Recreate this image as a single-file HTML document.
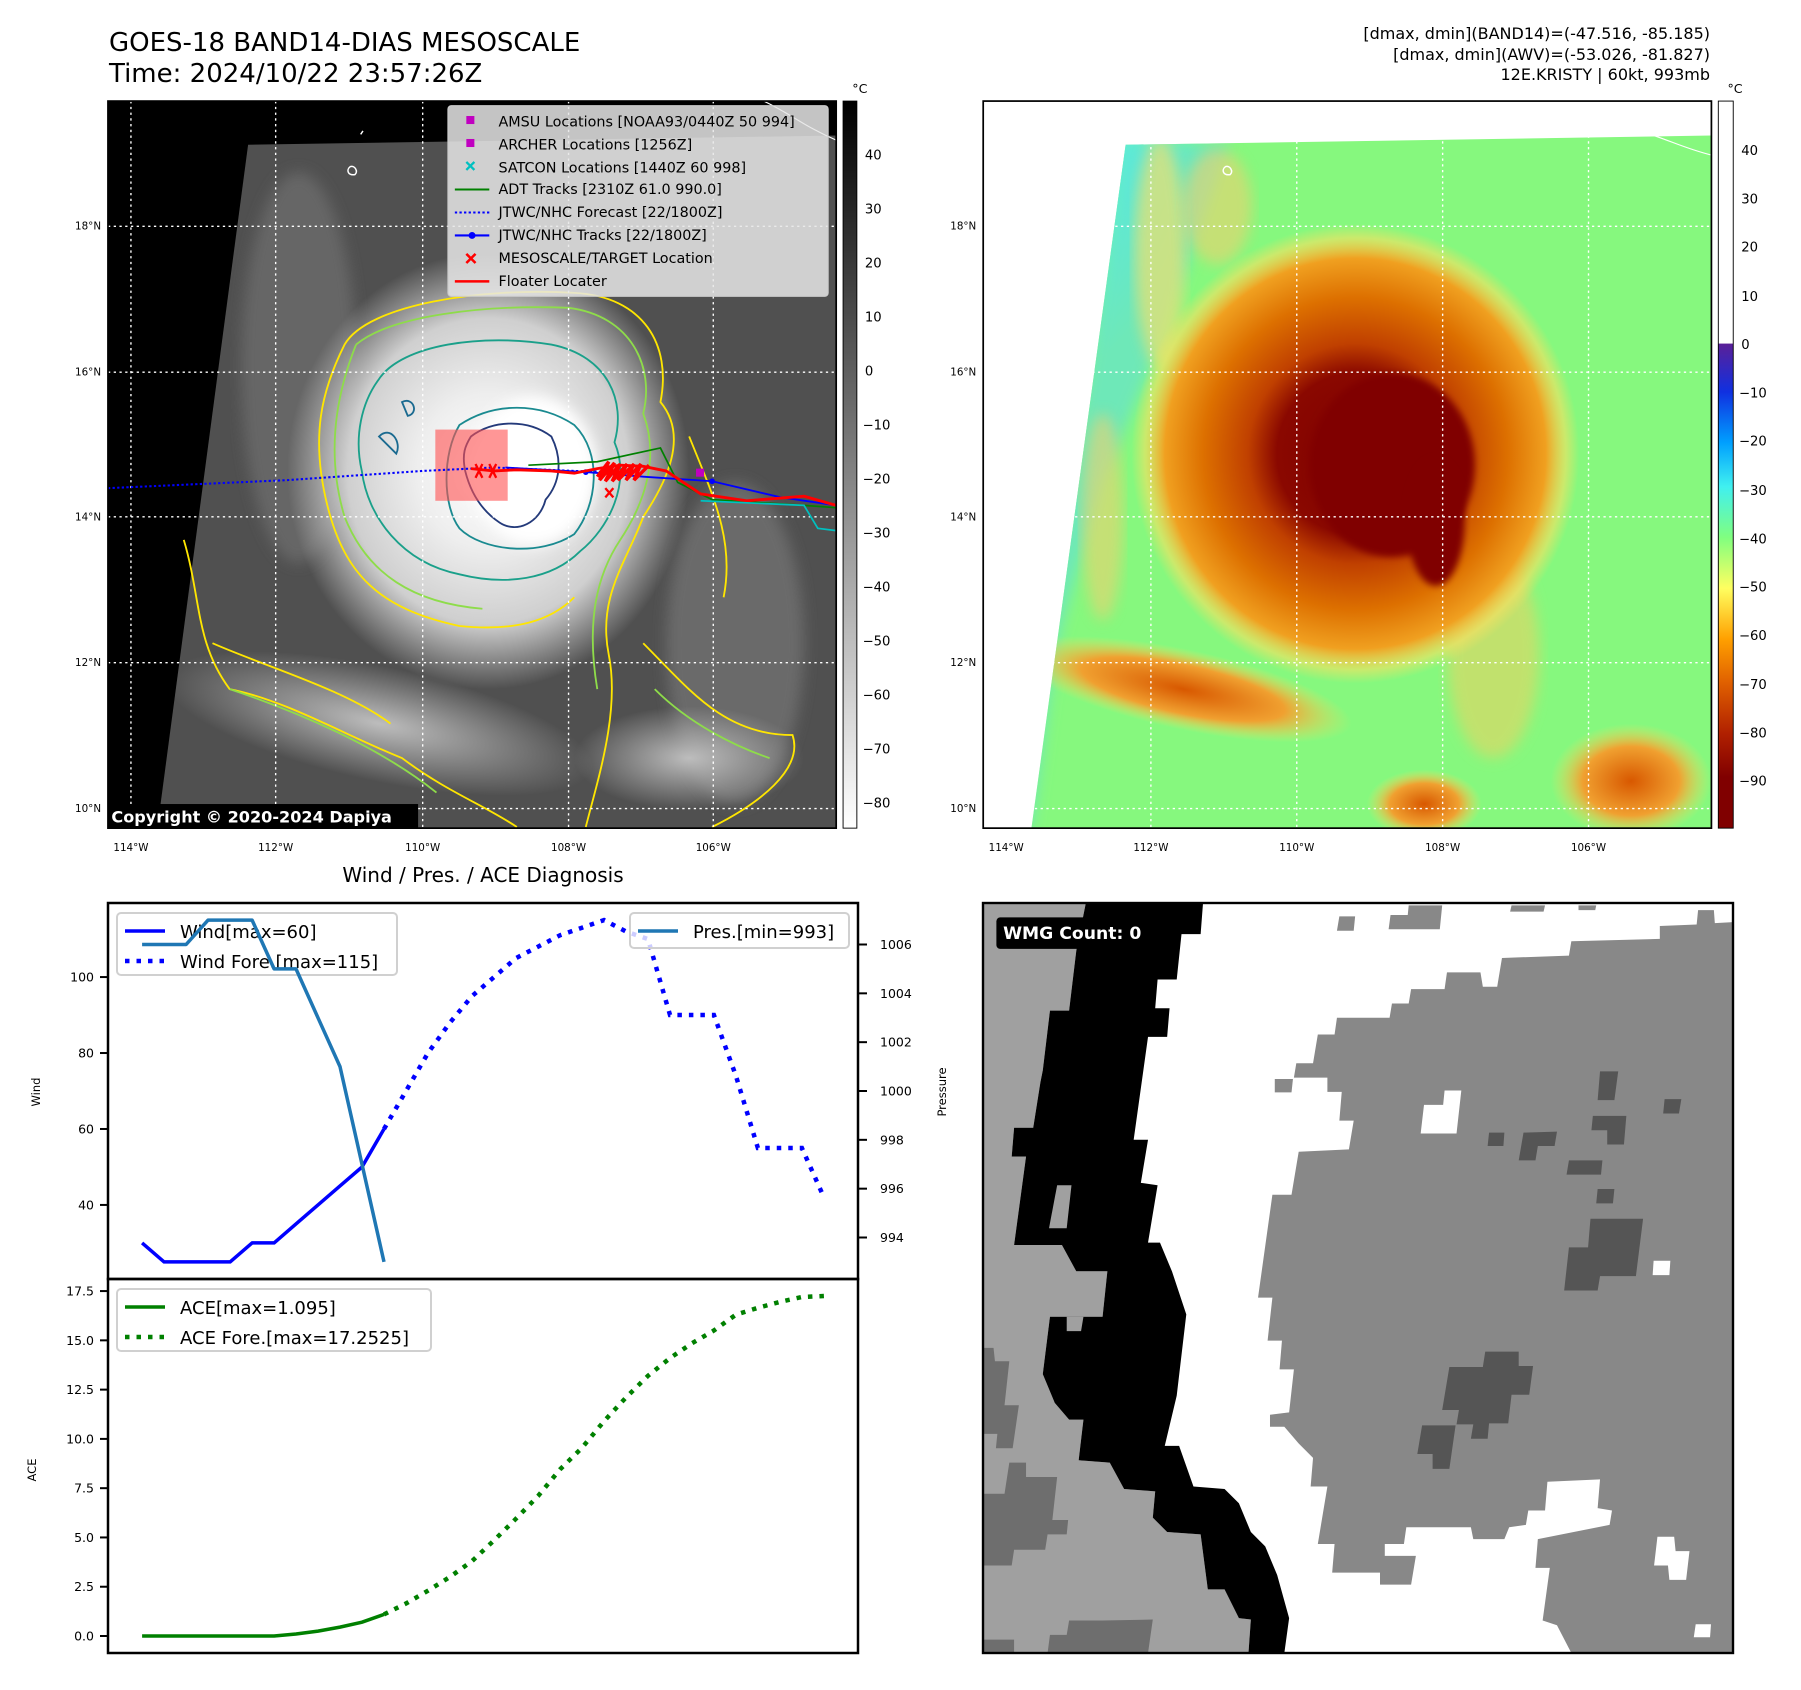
<!DOCTYPE html>
<html><head><meta charset="utf-8">
<style>
html,body{margin:0;padding:0;background:#fff;}
svg{display:block;font-family:"DejaVu Sans","Liberation Sans",sans-serif;}
</style></head>
<body>
<svg id="root" width="1801" height="1690" viewBox="0 0 1801 1690" xmlns="http://www.w3.org/2000/svg">
<defs>
  <clipPath id="clipL"><rect x="94" y="88" width="634" height="633"/></clipPath>
  <clipPath id="clipR"><rect x="856" y="88" width="634" height="633"/></clipPath>
  <clipPath id="swathL"><polygon points="216,126 728,118 728,721 137,721"/></clipPath>
  <clipPath id="swathR"><polygon points="980,126 1490,118 1490,721 898,721"/></clipPath>
  <radialGradient id="cyc" cx="0.5" cy="0.5" r="0.5">
    <stop offset="0" stop-color="#ffffff"/>
    <stop offset="0.35" stop-color="#eeeeee"/>
    <stop offset="0.7" stop-color="#cfcfcf"/>
    <stop offset="1" stop-color="#cfcfcf" stop-opacity="0"/>
  </radialGradient>
  <radialGradient id="band" cx="0.5" cy="0.5" r="0.5">
    <stop offset="0" stop-color="#bdbdbd"/>
    <stop offset="1" stop-color="#bdbdbd" stop-opacity="0"/>
  </radialGradient>
  <radialGradient id="storm" cx="0.5" cy="0.5" r="0.5">
    <stop offset="0" stop-color="#800000"/>
    <stop offset="0.35" stop-color="#8a0800"/>
    <stop offset="0.48" stop-color="#c04000"/>
    <stop offset="0.68" stop-color="#dd7000"/>
    <stop offset="0.85" stop-color="#f0a020"/>
    <stop offset="0.94" stop-color="#f8e060" stop-opacity="0.6"/>
    <stop offset="1" stop-color="#f8e060" stop-opacity="0"/>
  </radialGradient>
  <radialGradient id="cyanGrad" cx="0" cy="0" r="1">
    <stop offset="0" stop-color="#40b8ff"/>
    <stop offset="0.5" stop-color="#50e8f0"/>
    <stop offset="1" stop-color="#50e8f0" stop-opacity="0"/>
  </radialGradient>
  <radialGradient id="orBlob" cx="0.5" cy="0.5" r="0.5">
    <stop offset="0" stop-color="#d85800"/>
    <stop offset="0.6" stop-color="#f0a030"/>
    <stop offset="1" stop-color="#f8e060" stop-opacity="0"/>
  </radialGradient>
  <linearGradient id="grayBar" x1="0" y1="0" x2="0" y2="1">
    <stop offset="0" stop-color="#000"/>
    <stop offset="1" stop-color="#fff"/>
  </linearGradient>
  <linearGradient id="colorBar" x1="0" y1="0" x2="0" y2="1">
    <stop offset="0" stop-color="#fff"/>
    <stop offset="0.333" stop-color="#fff"/>
    <stop offset="0.334" stop-color="#5a2098"/>
    <stop offset="0.40" stop-color="#1030e0"/>
    <stop offset="0.47" stop-color="#00a0ff"/>
    <stop offset="0.53" stop-color="#40f0f0"/>
    <stop offset="0.60" stop-color="#80ff80"/>
    <stop offset="0.67" stop-color="#ffff60"/>
    <stop offset="0.74" stop-color="#ffa000"/>
    <stop offset="0.80" stop-color="#e06000"/>
    <stop offset="0.87" stop-color="#b02000"/>
    <stop offset="0.93" stop-color="#800000"/>
    <stop offset="1" stop-color="#800000"/>
  </linearGradient>
  <filter id="blur6"><feGaussianBlur stdDeviation="6"/></filter>
  <filter id="blur3"><feGaussianBlur stdDeviation="3"/></filter>
</defs>

<text x="109" y="51" font-size="26" fill="#000">GOES-18 BAND14-DIAS MESOSCALE</text>
<text x="109" y="82" font-size="26" fill="#000">Time: 2024/10/22 23:57:26Z</text>
<g font-size="16" text-anchor="end" fill="#000">
  <text x="1710" y="39">[dmax, dmin](BAND14)=(-47.516, -85.185)</text>
  <text x="1710" y="60">[dmax, dmin](AWV)=(-53.026, -81.827)</text>
  <text x="1710" y="80">12E.KRISTY | 60kt, 993mb</text>
</g>

<g transform="scale(1.1486)">
  <g>
    <g clip-path="url(#clipL)">
      <rect x="94" y="88" width="634" height="633" fill="#000"/>
      <polygon points="216,126 728,118 728,721 137,721" fill="#505050"/>
      <g clip-path="url(#swathL)">
        <ellipse cx="260" cy="320" rx="50" ry="170" fill="#666" filter="url(#blur6)"/>
        <ellipse cx="640" cy="560" rx="60" ry="140" fill="#6a6a6a" filter="url(#blur6)"/>
        <ellipse cx="330" cy="630" rx="190" ry="50" fill="url(#band)" transform="rotate(12 330 630)"/>
        <ellipse cx="600" cy="660" rx="100" ry="45" fill="url(#band)"/>
        <ellipse cx="425" cy="410" rx="175" ry="190" fill="url(#cyc)"/>
        <ellipse cx="465" cy="410" rx="55" ry="65" fill="#fff" filter="url(#blur6)"/>
      </g>
      <g fill="none" stroke-width="1.6">
        <path d="M300,300 C320,265 420,250 500,255 C560,258 585,300 575,350 C600,380 580,420 560,450 C545,490 520,520 530,570 C540,620 520,680 510,720 M300,300 C280,340 270,380 285,440 C300,500 330,530 400,545 C450,550 480,540 500,520" stroke="#ffe600"/>
        <path d="M160,470 C175,520 170,560 200,600 C250,610 300,640 350,660 C390,690 420,700 450,720 M185,560 C230,580 300,600 340,630 M560,560 C600,600 630,640 690,640 C700,670 660,700 620,720 M600,380 C620,430 640,470 630,520" stroke="#ffe600"/>
        <path d="M310,300 C340,275 420,265 495,268 C550,275 570,320 560,360 C575,400 560,440 540,470 C520,500 510,540 520,600 M310,300 C290,350 285,400 300,450 C320,500 360,525 420,530" stroke="#8edc4a"/>
        <path d="M200,600 C260,620 330,650 380,690 M570,600 C600,630 640,650 670,660" stroke="#8edc4a"/>
        <path d="M330,330 C350,300 420,290 480,300 C530,310 545,350 535,385 C550,420 530,460 505,480 C480,505 440,510 400,500 C350,490 320,450 315,410 C308,380 315,350 330,330 Z" stroke="#1aa08a"/>
        <path d="M400,370 C430,350 470,350 500,370 C525,395 520,440 500,465 C470,485 420,480 400,460 C385,440 385,395 400,370 Z" stroke="#1a8a90"/>
        <path d="M410,380 C430,365 460,365 480,380 C490,400 488,420 475,435 C470,455 450,465 435,455 C420,445 410,430 405,410 C402,395 405,388 410,380 Z" stroke="#243a7a"/>
        <path d="M330,380 C340,370 350,385 345,395 Z M350,350 C360,345 365,360 355,362 Z" stroke="#1a6a90"/>
      </g>
      <g stroke="#fff" stroke-width="1.2" stroke-dasharray="2 3">
        <line x1="114" y1="88" x2="114" y2="721"/><line x1="240" y1="88" x2="240" y2="721"/>
        <line x1="368" y1="88" x2="368" y2="721"/><line x1="495" y1="88" x2="495" y2="721"/>
        <line x1="621" y1="88" x2="621" y2="721"/>
        <line x1="94" y1="197" x2="728" y2="197"/><line x1="94" y1="324" x2="728" y2="324"/>
        <line x1="94" y1="450" x2="728" y2="450"/><line x1="94" y1="577" x2="728" y2="577"/>
        <line x1="94" y1="704" x2="728" y2="704"/>
      </g>
      <rect x="379" y="374" width="63" height="62" fill="#ff5050" fill-opacity="0.6"/>
      <polyline points="94,425 250,418 368,410 430,407 500,410 560,412" fill="none" stroke="#0000ff" stroke-width="1.8" stroke-dasharray="2 2"/>
      <polyline points="460,405 520,402 575,390 590,420 620,435 700,440 728,442" fill="none" stroke="#008000" stroke-width="1.5"/>
      <polyline points="440,407 510,411 560,415 620,419 680,433 728,440" fill="none" stroke="#0000ff" stroke-width="1.6"/>
      <circle cx="510" cy="411" r="2.5" fill="#0000ff"/><circle cx="620" cy="419" r="2.5" fill="#0000ff"/>
      <polyline points="410,408 430,410 450,409 480,410 500,412 520,408 540,405 560,406 580,410 610,430 650,436 700,432 728,440" fill="none" stroke="#ff0000" stroke-width="2.5"/>
      <path d="M520,415 L530,402 L522,418 L535,403 L527,419 L540,404 L533,419 L546,404 L538,418 L552,404 L545,418 L558,404 L552,418 L565,405" fill="none" stroke="#ff0000" stroke-width="3"/>
      <path d="M414,404 l6,12 M420,404 l-6,12 M426,404 l6,12 M432,404 l-6,12" stroke="#ff0000" stroke-width="2"/>
      <rect x="606" y="408" width="7" height="7" fill="#c000c0"/>
      <path d="M527,425 l7,8 M534,425 l-7,8" stroke="#ff0000" stroke-width="2"/>
      <path d="M610,436 L700,440 L712,460 L728,462" fill="none" stroke="#00c0c0" stroke-width="1.5"/>
      <path d="M305,145 c-4,3 -2,8 4,7 c3,-3 0,-8 -4,-7 z M316,114 l-2,3" fill="none" stroke="#fff" stroke-width="1.3"/>
      <path d="M665,88 C690,100 700,110 728,122" fill="none" stroke="#fff" stroke-width="1"/>
      <g>
        <rect x="390" y="92" width="331" height="166" rx="3" fill="#e6e6e6" fill-opacity="0.85" stroke="#ccc"/>
        <g font-size="12.5" fill="#000">
          <text x="434" y="110">AMSU Locations [NOAA93/0440Z 50 994]</text>
          <text x="434" y="130">ARCHER Locations [1256Z]</text>
          <text x="434" y="150">SATCON Locations [1440Z 60 998]</text>
          <text x="434" y="169">ADT Tracks [2310Z 61.0 990.0]</text>
          <text x="434" y="189">JTWC/NHC Forecast [22/1800Z]</text>
          <text x="434" y="209">JTWC/NHC Tracks [22/1800Z]</text>
          <text x="434" y="229">MESOSCALE/TARGET Location</text>
          <text x="434" y="249">Floater Locater</text>
        </g>
        <rect x="406" y="101" width="7" height="7" fill="#c000c0"/>
        <rect x="406" y="121" width="7" height="7" fill="#c000c0"/>
        <path d="M406,141 l7,7 M413,141 l-7,7" stroke="#00c0c0" stroke-width="2"/>
        <line x1="396" y1="165" x2="426" y2="165" stroke="#008000" stroke-width="1.8"/>
        <line x1="396" y1="185" x2="426" y2="185" stroke="#0000ff" stroke-width="1.8" stroke-dasharray="2 2"/>
        <line x1="396" y1="205" x2="426" y2="205" stroke="#0000ff" stroke-width="1.8"/><circle cx="411" cy="205" r="3" fill="#0000ff"/>
        <path d="M406,221 l8,8 M414,221 l-8,8" stroke="#ff0000" stroke-width="2.2"/>
        <line x1="396" y1="245" x2="426" y2="245" stroke="#ff0000" stroke-width="2.2"/>
      </g>
      <rect x="94" y="700" width="270" height="21" fill="#000"/>
      <text x="97" y="716" font-size="14" font-weight="bold" fill="#fff">Copyright © 2020-2024 Dapiya</text>
    </g>
    <rect x="94" y="88" width="634" height="633" fill="none" stroke="#000" stroke-width="1.5"/>
  </g>

  <g>
    <g clip-path="url(#clipR)">
      <rect x="856" y="88" width="634" height="633" fill="#fff"/>
      <polygon points="980,126 1490,118 1490,721 898,721" fill="#86f87e"/>
      <g clip-path="url(#swathR)">
        <polygon points="980,126 1070,124 1010,300 960,420 920,560 898,721 880,721" fill="#6ee8b8" filter="url(#blur6)"/>
        <ellipse cx="985" cy="140" rx="90" ry="200" fill="url(#cyanGrad)"/>
        <ellipse cx="1010" cy="220" rx="22" ry="100" fill="#f0e070" filter="url(#blur6)" opacity="0.7"/>
        <ellipse cx="1060" cy="180" rx="30" ry="50" fill="#f0d070" filter="url(#blur6)" opacity="0.6"/>
        <ellipse cx="960" cy="450" rx="18" ry="90" fill="#f0d070" filter="url(#blur6)" opacity="0.6"/>
        <ellipse cx="1030" cy="600" rx="150" ry="35" fill="url(#orBlob)" transform="rotate(12 1030 600)"/>
        <ellipse cx="1420" cy="680" rx="70" ry="50" fill="url(#orBlob)"/>
        <ellipse cx="1240" cy="700" rx="50" ry="30" fill="url(#orBlob)"/>
        <ellipse cx="1300" cy="570" rx="40" ry="90" fill="#f2d060" opacity="0.55" filter="url(#blur6)"/>
        <ellipse cx="1180" cy="395" rx="195" ry="200" fill="url(#storm)"/>
        <ellipse cx="1212" cy="405" rx="72" ry="80" fill="#800000" filter="url(#blur3)"/>
        <ellipse cx="1250" cy="455" rx="25" ry="55" fill="#800000" filter="url(#blur3)"/>
      </g>
      <g stroke="#fff" stroke-width="1.2" stroke-dasharray="2 3">
        <line x1="876" y1="88" x2="876" y2="721"/><line x1="1002" y1="88" x2="1002" y2="721"/>
        <line x1="1129" y1="88" x2="1129" y2="721"/><line x1="1256" y1="88" x2="1256" y2="721"/>
        <line x1="1383" y1="88" x2="1383" y2="721"/>
        <line x1="856" y1="197" x2="1490" y2="197"/><line x1="856" y1="324" x2="1490" y2="324"/>
        <line x1="856" y1="450" x2="1490" y2="450"/><line x1="856" y1="577" x2="1490" y2="577"/>
        <line x1="856" y1="704" x2="1490" y2="704"/>
      </g>
      <path d="M1067,145 c-4,3 -2,8 4,7 c3,-3 0,-8 -4,-7 z" fill="none" stroke="#fff" stroke-width="1.3"/>
      <path d="M1440,118 C1460,125 1470,130 1490,135" fill="none" stroke="#fff" stroke-width="1"/>
    </g>
    <rect x="856" y="88" width="634" height="633" fill="none" stroke="#000" stroke-width="1.5"/>
  </g>

  <g font-size="9" fill="#000" text-anchor="end">
    <text x="88" y="200">18°N</text><text x="88" y="327">16°N</text><text x="88" y="453">14°N</text><text x="88" y="580">12°N</text><text x="88" y="707">10°N</text>
    <text x="850" y="200">18°N</text><text x="850" y="327">16°N</text><text x="850" y="453">14°N</text><text x="850" y="580">12°N</text><text x="850" y="707">10°N</text>
  </g>
  <g font-size="9" fill="#000" text-anchor="middle">
    <text x="114" y="741">114°W</text><text x="240" y="741">112°W</text><text x="368" y="741">110°W</text><text x="495" y="741">108°W</text><text x="621" y="741">106°W</text>
    <text x="876" y="741">114°W</text><text x="1002" y="741">112°W</text><text x="1129" y="741">110°W</text><text x="1256" y="741">108°W</text><text x="1383" y="741">106°W</text>
  </g>

  <g>
    <text x="742" y="81" font-size="11">°C</text>
    <rect x="734" y="88" width="12" height="633" fill="url(#grayBar)" stroke="#000" stroke-width="0.8"/>
    <g font-size="11.5" fill="#000">
      <text x="753" y="139">40</text><text x="753" y="186">30</text><text x="753" y="233">20</text><text x="753" y="280">10</text><text x="753" y="327">0</text>
      <text x="751" y="374">−10</text><text x="751" y="421">−20</text><text x="751" y="468">−30</text><text x="751" y="515">−40</text><text x="751" y="562">−50</text>
      <text x="751" y="609">−60</text><text x="751" y="656">−70</text><text x="751" y="703">−80</text>
    </g>
  </g>
  <g>
    <text x="1504" y="81" font-size="11">°C</text>
    <rect x="1496" y="88" width="13" height="633" fill="url(#colorBar)" stroke="#000" stroke-width="0.8"/>
    <g font-size="11.5" fill="#000">
      <text x="1516" y="135">40</text><text x="1516" y="177">30</text><text x="1516" y="219">20</text><text x="1516" y="262">10</text><text x="1516" y="304">0</text>
      <text x="1514" y="346">−10</text><text x="1514" y="388">−20</text><text x="1514" y="431">−30</text><text x="1514" y="473">−40</text><text x="1514" y="515">−50</text>
      <text x="1514" y="557">−60</text><text x="1514" y="600">−70</text><text x="1514" y="642">−80</text><text x="1514" y="684">−90</text>
    </g>
  </g>
</g>

<g transform="translate(983,903) scale(0.47832)">
  <rect x="0" y="0" width="1568" height="1568" fill="#fff"/>
  <polygon fill="#a0a0a0" points="0,0 215,0 195,100 180,225 140,225 125,350 120,375 105,470 65,470 60,530 90,530 65,715 165,715 195,770 260,770 250,865 140,865 125,985 150,1045 180,1080 210,1080 200,1165 265,1170 295,1225 360,1230 355,1285 385,1315 455,1320 470,1435 505,1435 535,1495 560,1498 555,1568 0,1568"/>
  <polygon fill="#6e6e6e" points="0,930 22,930 25,958 55,958 45,1050 75,1050 62,1140 27,1140 30,1110 0,1110"/>
  <polygon fill="#6e6e6e" points="55,1170 90,1170 90,1200 155,1200 145,1290 178,1290 175,1320 135,1320 130,1352 65,1352 60,1385 0,1385 0,1235 45,1235"/>
  <polygon fill="#6e6e6e" points="140,1530 175,1530 180,1500 250,1500 355,1498 345,1568 135,1568"/>
  <polygon fill="#6e6e6e" points="0,1540 65,1540 65,1568 0,1568"/>
  <polygon fill="#000" points="215,0 460,0 455,65 415,65 405,160 365,160 360,220 390,220 385,280 345,280 315,495 345,495 330,585 365,590 345,710 370,710 395,770 425,860 405,1030 380,1135 410,1135 440,1220 505,1225 535,1255 560,1315 590,1345 615,1405 640,1495 630,1568 555,1568 560,1498 535,1495 505,1435 470,1435 455,1320 385,1315 355,1285 360,1230 295,1225 265,1170 200,1165 210,1080 180,1080 150,1045 125,985 140,865 250,865 260,770 195,770 165,715 65,715 90,530 60,530 65,470 105,470 120,375 125,350 140,225 180,225 195,100"/>
  <polygon fill="#a0a0a0" points="155,590 185,590 175,680 138,680"/>
  <polygon fill="#a0a0a0" points="175,865 210,865 205,895 175,895"/>
  <polygon fill="#888" points="1568,40 1530,42 1528,15 1495,15 1492,45 1415,48 1415,75 1230,80 1225,110 1085,115 1075,175 1045,175 1040,145 970,145 965,180 895,180 890,210 855,210 850,240 740,240 735,275 700,275 690,335 655,335 650,365 720,365 720,395 750,395 745,455 775,455 765,515 660,520 645,610 605,610 575,825 605,825 595,915 625,915 620,975 650,975 640,1065 600,1070 600,1095 630,1095 660,1130 690,1160 685,1220 720,1220 700,1340 735,1340 730,1400 830,1400 830,1425 895,1425 905,1365 840,1365 840,1340 880,1340 885,1305 1020,1305 1025,1330 1090,1330 1100,1305 1135,1300 1140,1270 1175,1270 1180,1210 1290,1205 1285,1265 1315,1270 1310,1300 1160,1330 1155,1390 1185,1390 1170,1500 1200,1510 1230,1568 1568,1568"/>
  <g fill="#888">
    <polygon points="745,28 778,28 775,58 740,58"/>
    <polygon points="890,5 960,5 955,55 848,55 852,25 888,25"/>
    <polygon points="1105,5 1175,5 1172,18 1102,18"/>
    <polygon points="1245,5 1282,5 1280,15 1245,15"/>
    <polygon points="610,368 648,368 645,396 610,396"/>
  </g>
  <g fill="#555">
    <polygon points="1270,660 1380,660 1365,780 1290,780 1285,810 1215,810 1225,720 1265,720"/>
    <polygon points="975,970 1045,970 1050,938 1120,938 1120,968 1150,968 1142,1028 1105,1028 1098,1088 1058,1088 1055,1120 1020,1120 1025,1090 990,1090 995,1060 960,1060"/>
    <polygon points="918,1092 988,1092 975,1183 940,1183 940,1152 908,1152"/>
    <polygon points="1290,352 1328,352 1320,412 1285,412"/>
    <polygon points="1275,445 1345,445 1340,505 1305,505 1305,475 1272,475"/>
    <polygon points="1130,480 1200,478 1195,508 1160,508 1155,538 1120,538"/>
    <polygon points="1058,480 1090,480 1088,508 1055,508"/>
    <polygon points="1225,538 1295,538 1292,568 1220,568"/>
    <polygon points="1285,598 1320,598 1317,628 1282,628"/>
    <polygon points="1425,410 1460,410 1455,440 1422,440"/>
  </g>
  <g fill="#fff">
    <polygon points="965,392 1000,392 990,482 915,482 922,422 962,422"/>
    <polygon points="1402,748 1437,748 1435,778 1400,778"/>
    <polygon points="1410,1325 1445,1325 1448,1355 1477,1355 1470,1415 1435,1415 1432,1385 1403,1385"/>
    <polygon points="1490,1508 1522,1508 1520,1535 1486,1535"/>
  </g>
  <rect x="28" y="30" width="372" height="66" rx="8" fill="#000"/>
  <text x="42" y="75" font-size="36" font-weight="bold" fill="#fff">WMG Count: 0</text>
  <rect x="0" y="0" width="1568" height="1568" fill="none" stroke="#000" stroke-width="5"/>
</g>

<text x="483" y="882" font-size="20" text-anchor="middle" fill="#000">Wind / Pres. / ACE Diagnosis</text>
<g id="chart"></g>
</svg>

<script>
// ---- data ----
const windObs = [30,25,25,25,25,30,30,35,40,45,50,60];
const windFore = [60,70,80,88,95,100,105,108,111,113,115,112,110,90,90,90,74,55,55,55,42];
const presObs = [1006,1006,1006,1007,1007,1007,1005,1005,1003,1001,997,993];
const aceObs = [0,0,0,0,0,0,0,0.1,0.25,0.45,0.7,1.095];
const aceFore = [1.095,1.65,2.3,3.0,3.8,4.85,5.95,7.1,8.45,9.55,10.9,12.1,13.2,14.1,14.85,15.5,16.3,16.65,16.95,17.2,17.25];
const windTicks = [40,60,80,100];
const presTicks = [994,996,998,1000,1002,1004,1006];
const aceTicks = [0,2.5,5,7.5,10,12.5,15,17.5];

const NS='http://www.w3.org/2000/svg';
const chart=document.getElementById('chart');
const L=108, R=858, T1=903, B1=1279, T2=1279, B2=1653;
const nPts = windObs.length + windFore.length - 1;
const xmin=-0.05*(nPts-1), xmax=(nPts-1)*1.05;
function xS(i){return L+(i-xmin)/(xmax-xmin)*(R-L);}
const wMin=20.5, wMax=119.5, pMin=992.3, pMax=1007.7, aMin=-0.8625, aMax=18.1125;
function yW(v){return T1+(wMax-v)/(wMax-wMin)*(B1-T1);}
function yP(v){return T1+(pMax-v)/(pMax-pMin)*(B1-T1);}
function yA(v){return T2+(aMax-v)/(aMax-aMin)*(B2-T2);}

function mk(tag,attrs,parent){const e=document.createElementNS(NS,tag);for(const k in attrs)e.setAttribute(k,attrs[k]);(parent||chart).appendChild(e);return e;}
function pts(arr,off,yf){return arr.map((v,i)=>xS(i+off).toFixed(1)+','+yf(v).toFixed(1)).join(' ');}

let f1=mk('rect',{x:L,y:T1,width:R-L,height:B1-T1,fill:'none',stroke:'#000','stroke-width':2.5});


let f2=mk('rect',{x:L,y:T2,width:R-L,height:B2-T2,fill:'none',stroke:'#000','stroke-width':2.5});



windTicks.forEach(v=>{
  const y=yW(v);
  const t=mk('line',{x1:L-8,x2:L,y1:y,y2:y,stroke:'#000','stroke-width':2});
  
  
  const tx=mk('text',{x:L-14,y:y+4.5,'font-size':12.5,'text-anchor':'end'});tx.textContent=v;
  
  
});
presTicks.forEach(v=>{
  const y=yP(v);
  const t=mk('line',{x1:R,x2:R+9,y1:y,y2:y,stroke:'#000','stroke-width':2});
  
  
  const tx=mk('text',{x:R+22,y:y+4.5,'font-size':12.5});tx.textContent=v;
  
  
});
aceTicks.forEach(v=>{
  const y=yA(v);
  const t=mk('line',{x1:L-8,x2:L,y1:y,y2:y,stroke:'#000','stroke-width':2});
  
  
  const tx=mk('text',{x:L-14,y:y+4.5,'font-size':12.5,'text-anchor':'end'});tx.textContent=v.toFixed(1);
  
  
});
let yl=mk('text',{x:0,y:0,'font-size':11.5,'text-anchor':'middle',transform:'translate(40,1092) rotate(-90)'});yl.textContent='Wind';


let pl=mk('text',{x:0,y:0,'font-size':11.5,'text-anchor':'middle',transform:'translate(946,1092) rotate(-90)'});pl.textContent='Pressure';


let al=mk('text',{x:0,y:0,'font-size':11.5,'text-anchor':'middle',transform:'translate(36,1470) rotate(-90)'});al.textContent='ACE';



const off=windObs.length-1;
let s1=mk('polyline',{points:pts(windObs,0,yW),fill:'none',stroke:'#0000ff','stroke-width':3.5,'stroke-linejoin':'round'});


let s2=mk('polyline',{points:pts(windFore,off,yW),fill:'none',stroke:'#0000ff','stroke-width':4.5,'stroke-dasharray':'4.5 7'});


let s3=mk('polyline',{points:pts(presObs,0,yP),fill:'none',stroke:'#1f77b4','stroke-width':3.5,'stroke-linejoin':'round'});


let s4=mk('polyline',{points:pts(aceObs,0,yA),fill:'none',stroke:'#008000','stroke-width':3.5});


let s5=mk('polyline',{points:pts(aceFore,off,yA),fill:'none',stroke:'#008000','stroke-width':4.5,'stroke-dasharray':'4.5 7'});



function legend(name,x,y,w,h,items){
  const g=mk('g',{});
  
  
  mk('rect',{x:x,y:y,width:w,height:h,rx:4,fill:'#fff','fill-opacity':0.8,stroke:'#d0d0d0','stroke-width':2},g);
  items.forEach((it,k)=>{
    const cy=y+18+k*30;
    mk('line',{x1:x+8,x2:x+48,y1:cy,y2:cy,stroke:it.c,'stroke-width':it.dash?4.5:3.5,'stroke-dasharray':it.dash?'4.5 7':'none'},g);
    const t=mk('text',{x:x+63,y:cy+7,'font-size':18},g);t.textContent=it.t;
  });
}
legend('wind-legend',117,913,280,62,[{c:'#0000ff',t:'Wind[max=60]'},{c:'#0000ff',t:'Wind Fore.[max=115]',dash:true}]);
legend('pressure-legend',630,913,219,35,[{c:'#1f77b4',t:'Pres.[min=993]'}]);
legend('ace-legend',117,1289,314,62,[{c:'#008000',t:'ACE[max=1.095]'},{c:'#008000',t:'ACE Fore.[max=17.2525]',dash:true}]);
chart.appendChild(s3);
</script>
</body></html>
